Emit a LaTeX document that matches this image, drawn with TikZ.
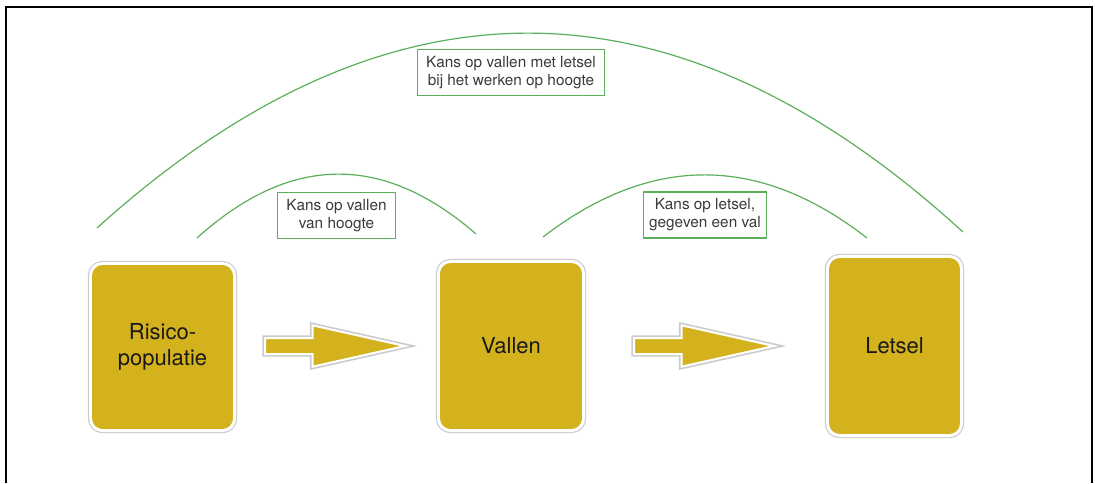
\documentclass[tikz,border=0pt]{standalone}
\usepackage{fontspec}
\setmainfont{TeX Gyre Heros}
\usetikzlibrary{shapes.arrows,shadows}
\definecolor{boxgold}{HTML}{D4B21D}
\definecolor{arcgreen}{HTML}{5BAF5B}
\definecolor{labelgray}{HTML}{3A3A3A}

\begin{document}
\begin{tikzpicture}[
  x=0.75pt,y=-0.75pt,
  halo/.style={general shadow={draw=black!45,fill=black!45,line width=4pt,opacity=.45}},
  stage/.style={draw=white,line width=2.2pt,fill=boxgold,rounded corners=9pt,halo,
    align=center,font=\fontsize{16.5}{19.5}\selectfont,text=black!90},
  flow/.style={single arrow,draw=white,line width=1.5pt,fill=boxgold,anchor=tail,
    inner sep=5.25pt,minimum height=105pt,single arrow head extend=9.5pt,
    single arrow tip angle=25.2,halo},
  chance/.style={draw=arcgreen,line width=0.9pt,fill=white,align=center,
    font=\fontsize{11.5}{13.5}\selectfont,text=labelgray,inner xsep=6.5pt,inner ysep=5pt},
  arc/.style={arcgreen,line width=0.9pt}
]
\useasboundingbox (0,0) rectangle (1095,483);
\draw[line width=1.5pt] (6,483) -- (6,7) -- (1092,7) -- (1092,483);

% de drie stappen
\node[stage,minimum width=108pt,minimum height=125.3pt] (risico) at (162.5,347) {Risico-\\populatie};
\node[stage,minimum width=108.8pt,minimum height=126.8pt] (vallen) at (511,346) {Vallen};
\node[stage,minimum width=100.5pt,minimum height=134.3pt] (letsel) at (894.5,346) {Letsel};
\foreach \n/\x in {stap1/264,stap2/633} {\node[flow] (\n) at (\x,346) {};}

% bogen met kansen
\coordinate (wideL) at (97,228);
\coordinate (wideR) at (963,232);
\coordinate (valL) at (197,238);
\coordinate (valR) at (476,234);
\coordinate (letL) at (543,237);
\coordinate (letR) at (867,238);
\draw[arc] (wideL) .. controls (386,-33) and (674,-32) .. (wideR);
\draw[arc] (valL) .. controls (290,154) and (383,153) .. (valR);
\draw[arc] (letL) .. controls (651,154) and (759,154) .. (letR);
\node[chance] (kansAll) at (511,72.5) {Kans op vallen met letsel\\bij het werken op hoogte};
\node[chance] (kansVal) at (336.5,215.5) {Kans op vallen\\van hoogte};
\node[chance,inner xsep=4pt] (kansLetsel) at (705,215) {Kans op letsel,\\gegeven een val};
\end{tikzpicture}
\end{document}
